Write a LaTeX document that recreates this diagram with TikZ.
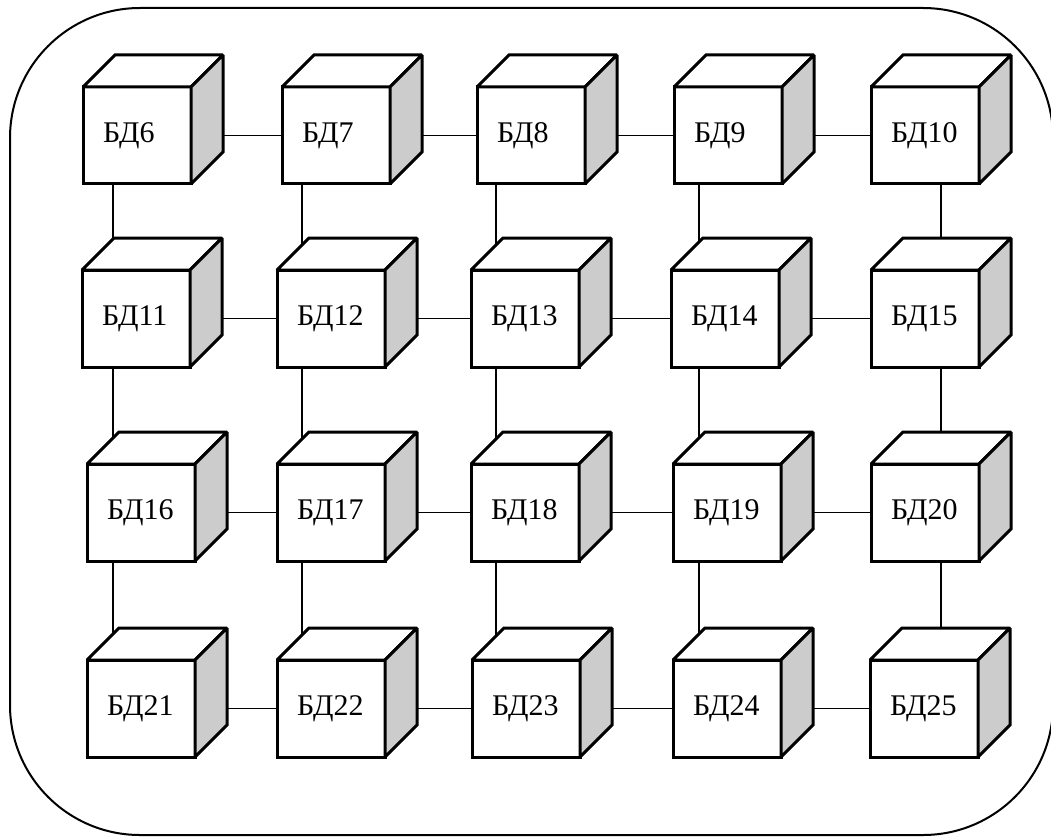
\documentclass[tikz,border=0pt]{standalone}
\usepackage{fontspec}
\setmainfont{Liberation Serif}
\definecolor{sidegray}{RGB}{204,204,204}
\pgfdeclarelayer{bg}
\pgfsetlayers{bg,main}
\tikzset{
  bdfront/.style={draw, line width=3pt, fill=white, rectangle, outer sep=0pt,
    minimum width=108pt, minimum height=97pt, inner xsep=20pt, inner ysep=0pt,
    text width=68pt, align=left, font=\fontsize{30}{34}\selectfont},
  bdface/.style={draw, line width=3pt, line join=miter, miter limit=1.6},
  link/.style={line width=1.3pt},
  frame/.style={line width=2pt, rounded corners=130pt}
}
\newcommand\bdcube[4]{%
  \node[bdfront] (#1) at (#2+54,#3+48.5) {#4};
  \filldraw[bdface, fill=white] (#1.north west) -- ([shift={(32,-32)}]#1.north west)
     -- ([shift={(32,-32)}]#1.north east) -- (#1.north east) -- cycle;
  \filldraw[bdface, fill=sidegray] (#1.north east) -- ([shift={(32,-32)}]#1.north east)
     -- ([shift={(32,-32)}]#1.south east) -- (#1.south east) -- cycle;
}
\begin{document}
\begin{tikzpicture}[x=1pt, y=-1pt]
\useasboundingbox (0,0) rectangle (1051,837);
% cubes
\bdcube{b6}{83}{87}{БД6}
\bdcube{b7}{282}{87}{БД7}
\bdcube{b8}{477}{87}{БД8}
\bdcube{b9}{674}{87}{БД9}
\bdcube{b10}{871}{87}{БД10}
\bdcube{b11}{82}{270}{БД11}
\bdcube{b12}{277}{270}{БД12}
\bdcube{b13}{471}{270}{БД13}
\bdcube{b14}{671}{270}{БД14}
\bdcube{b15}{871}{270}{БД15}
\bdcube{b16}{87}{464}{БД16}
\bdcube{b17}{277}{464}{БД17}
\bdcube{b18}{471}{464}{БД18}
\bdcube{b19}{673}{464}{БД19}
\bdcube{b20}{871}{464}{БД20}
\bdcube{b21}{87}{660}{БД21}
\bdcube{b22}{277}{660}{БД22}
\bdcube{b23}{472}{660}{БД23}
\bdcube{b24}{673}{660}{БД24}
\bdcube{b25}{870}{660}{БД25}
% column positions of vertical links
\coordinate (c1) at (113,0);
\coordinate (c2) at (302,0);
\coordinate (c3) at (496,0);
\coordinate (c4) at (699,0);
\coordinate (c5) at (941,0);
\begin{pgfonlayer}{bg}
  \draw[frame] (10,8) rectangle (1053,835);
  % horizontal links
  \foreach \a/\b in {b6/b7,b7/b8,b8/b9,b9/b10,
                     b11/b12,b12/b13,b13/b14,b14/b15,
                     b16/b17,b17/b18,b18/b19,b19/b20,
                     b21/b22,b22/b23,b23/b24,b24/b25}
    \draw[link] (\a.east) -- (\b.west);
  % vertical links
  \foreach \a/\b/\c in {b6/b11/c1,b7/b12/c2,b8/b13/c3,b9/b14/c4,b10/b15/c5,
                        b11/b16/c1,b12/b17/c2,b13/b18/c3,b14/b19/c4,b15/b20/c5,
                        b16/b21/c1,b17/b22/c2,b18/b23/c3,b19/b24/c4,b20/b25/c5}
    \draw[link] (\a.south -| \c) -- (\b.north -| \c);
\end{pgfonlayer}
\end{tikzpicture}
\end{document}
